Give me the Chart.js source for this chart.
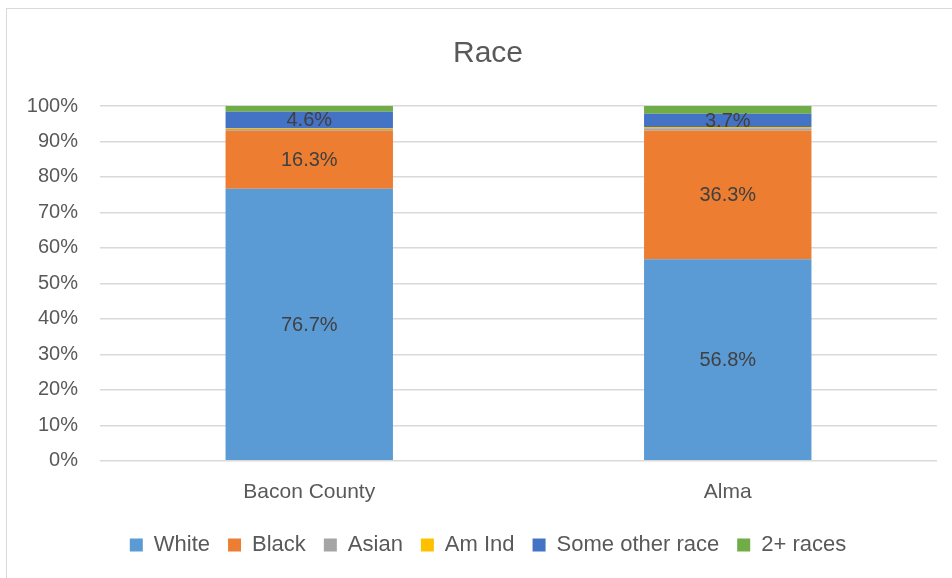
<html lang="en">
<head>
<meta charset="UTF-8">
<title>Race</title>
<script src="https://cdn.jsdelivr.net/npm/chart.js"></script>
<style>
  body, html {
    margin: 0;
    background: #fff;
    overflow: hidden;
    font-family: "Liberation Sans", Arial, sans-serif;
  }
  .frame {
    position: absolute;
    left: 6px;
    top: 8px;
    width: 980px;
    height: 600px;
    border: 1.5px solid #d9d9d9;
  }
  .chart-box {
    position: absolute;
    left: 7px;
    top: 8px;
    width: 962px;
    height: 580px;
  }
</style>
</head>
<body>
<div class="frame"></div>
<div class="chart-box">
  <canvas id="raceChart"></canvas>
</div>
<script>
  // data (percent of population)
  const places = ['Bacon County', 'Alma'];
  const white = [76.7, 56.8];
  const black = [16.3, 36.3];
  const asian = [0.5, 0.6];
  const amInd = [0.3, 0.4];
  const otherRace = [4.6, 3.7];
  const twoPlus = [1.6, 2.2];
  const yTicks = [0, 10, 20, 30, 40, 50, 60, 70, 80, 90, 100];

  // which series get a value label in the bar
  const labelled = ['White', 'Black', 'Some other race'];

  const fontName = '"Liberation Sans", Arial, sans-serif';

  // small plugin to write the values inside the segments
  const segmentLabels = {
    id: 'segmentLabels',
    afterDatasetsDraw(chart) {
      const ctx = chart.ctx;
      ctx.save();
      ctx.font = '20px ' + fontName;
      ctx.fillStyle = '#404040';
      ctx.textAlign = 'center';
      ctx.textBaseline = 'middle';
      chart.data.datasets.forEach((ds, i) => {
        if (!labelled.includes(ds.label)) return;
        chart.getDatasetMeta(i).data.forEach((bar, j) => {
          const mid = (bar.y + bar.base) / 2;
          ctx.fillText(ds.data[j].toFixed(1) + '%', bar.x, mid + 1);
        });
      });
      ctx.restore();
    }
  };

  const ctx = document.getElementById('raceChart').getContext('2d');
  new Chart(ctx, {
    type: 'bar',
    data: {
      labels: places,
      datasets: [
        { label: 'White', data: white, backgroundColor: '#5B9BD5' },
        { label: 'Black', data: black, backgroundColor: '#ED7D31' },
        { label: 'Asian', data: asian, backgroundColor: '#A5A5A5' },
        { label: 'Am Ind', data: amInd, backgroundColor: '#FFC000' },
        { label: 'Some other race', data: otherRace, backgroundColor: '#4472C4' },
        { label: '2+ races', data: twoPlus, backgroundColor: '#70AD47' }
      ]
    },
    options: {
      responsive: true,
      maintainAspectRatio: false,
      animation: false,
      datasets: {
        bar: { barPercentage: 0.4, categoryPercentage: 1.0, borderWidth: 0 }
      },
      layout: { padding: { left: 0, right: 0, top: 0, bottom: 22 } },
      scales: {
        x: {
          stacked: true,
          // tick marks hidden, their 8px length only pushes the labels down
          grid: { display: false, drawTicks: true, tickLength: 8 },
          border: { display: false },
          ticks: {
            color: '#595959',
            font: { family: fontName, size: 21 },
            padding: 11,
            maxRotation: 0,
            minRotation: 0
          }
        },
        y: {
          stacked: true,
          min: 0,
          max: 100,
          afterBuildTicks: (scale) => { scale.ticks = yTicks.map(v => ({ value: v })); },
          afterFit: (scale) => { scale.width = 93; },
          grid: { color: '#d9d9d9', lineWidth: 1.5, drawTicks: false },
          border: { display: false },
          ticks: {
            color: '#595959',
            font: { family: fontName, size: 20 },
            padding: 22,
            callback: (v) => v + '%'
          }
        },
        // empty right side margin so title and legend stay centred on the whole box
        yRight: {
          position: 'right',
          afterFit: (scale) => { scale.width = 32; },
          grid: { display: false },
          border: { display: false },
          ticks: { display: false }
        }
      },
      plugins: {
        title: {
          display: true,
          text: 'Race',
          color: '#595959',
          font: { family: fontName, size: 30, weight: 'normal' },
          padding: { top: 28, bottom: 34 }
        },
        legend: {
          position: 'bottom',
          labels: {
            color: '#595959',
            font: { family: fontName, size: 22 },
            boxWidth: 13,
            boxHeight: 13,
            padding: 18
          }
        },
        tooltip: { enabled: false }
      }
    },
    plugins: [segmentLabels]
  });
</script>
</body>
</html>
